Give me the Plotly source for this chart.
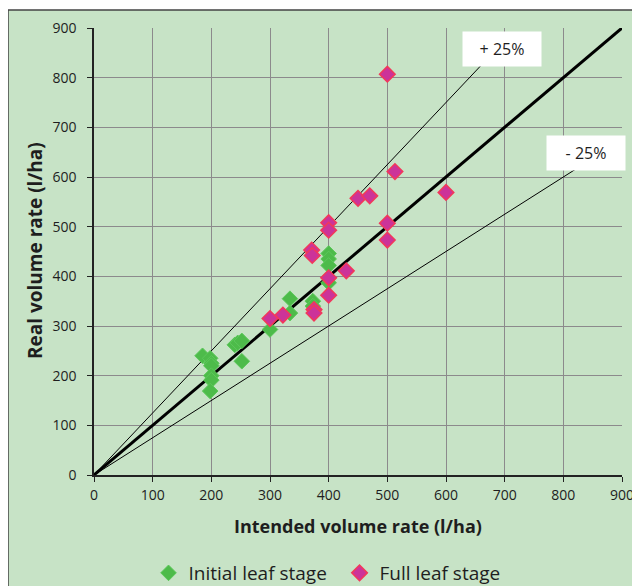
import plotly.graph_objects as go

# Data
initial_x = [185, 198, 200, 200, 200, 200, 198, 240, 245, 252, 252, 300, 334, 334, 373, 373, 400, 400, 400, 400, 400]
initial_y = [240, 235, 225, 220, 200, 191, 169, 262, 266, 270, 229, 293, 355, 326, 350, 340, 446, 435, 422, 397, 387]

full_x = [300, 322, 375, 375, 371, 372, 400, 400, 400, 400, 430, 450, 470, 500, 500, 500, 513, 600]
full_y = [315, 322, 333, 326, 453, 442, 508, 493, 397, 362, 411, 557, 562, 807, 507, 473, 611, 569]

line_1to1_x = [0, 900]
line_1to1_y = [0, 900]
line_plus_x = [0, 660]
line_plus_y = [0, 825]
line_minus_x = [0, 820]
line_minus_y = [0, 615]

ticks = [0, 100, 200, 300, 400, 500, 600, 700, 800, 900]

GREEN_BG = "#c7e3c6"
PINK_BG = "#efd5d7"
FONT = "Open Sans"
TXT = "#1e1e1e"

fig = go.Figure()

for xs, ys, w in [(line_plus_x, line_plus_y, 1), (line_minus_x, line_minus_y, 1), (line_1to1_x, line_1to1_y, 3)]:
    fig.add_trace(go.Scatter(x=xs, y=ys, mode="lines", line=dict(color="black", width=w),
                             showlegend=False, hoverinfo="skip"))

fig.add_trace(go.Scatter(x=initial_x, y=initial_y, mode="markers", name="Initial leaf stage",
                         marker=dict(symbol="diamond", size=12, color="#4dbb4a",
                                     line=dict(color="#5cc85a", width=1))))
fig.add_trace(go.Scatter(x=full_x, y=full_y, mode="markers", name="Full leaf stage",
                         marker=dict(symbol="diamond", size=12, color="#cc3399",
                                     line=dict(color="#f2385a", width=1.5))))

fig.add_annotation(x=695, y=858, text="+ 25%", showarrow=False, bgcolor="white",
                   font=dict(family=FONT, size=16, color=TXT), width=76, height=32)
fig.add_annotation(x=839, y=648, text="- 25%", showarrow=False, bgcolor="white",
                   font=dict(family=FONT, size=16, color=TXT), width=76, height=32)

# axis titles
fig.add_annotation(xref="paper", yref="paper", x=0.5, y=-0.114, xanchor="center", yanchor="middle",
                   text="<b>Intended volume rate (l/ha)</b>", showarrow=False,
                   font=dict(family=FONT, size=18, color=TXT))
fig.add_annotation(xref="paper", yref="paper", x=-0.112, y=0.503, xanchor="center", yanchor="middle",
                   text="<b>Real volume rate (l/ha)</b>", showarrow=False, textangle=-90,
                   font=dict(family=FONT, size=19, color=TXT))

# outer green frame
fig.add_shape(type="rect", xref="paper", yref="paper", layer="below",
              x0=(8 - 94) / 528, x1=(660 - 94) / 528,
              y0=(475 - 600) / 447, y1=(475 - 10) / 447,
              fillcolor=GREEN_BG, line=dict(color="#444", width=1.5))

axis_common = dict(range=[0, 900], tickvals=ticks, showgrid=True, gridcolor="#8c8a8c", gridwidth=1,
                   showline=True, linecolor="#222", linewidth=1.5, ticks="outside", ticklen=5,
                   tickcolor="#222", zeroline=False, tickfont=dict(family=FONT, size=14, color=TXT),
                   fixedrange=True, automargin=False)

fig.update_xaxes(**axis_common, ticklabelstandoff=1)
fig.update_yaxes(**axis_common, ticklabelstandoff=8)

# the page body adds an 8px offset; margins compensate for it
fig.update_layout(
    width=640, height=586,
    margin=dict(l=86, r=26, t=20, b=119),
    paper_bgcolor="white", plot_bgcolor=PINK_BG,
    showlegend=True,
    legend=dict(orientation="h", xref="paper", x=0.465, xanchor="center",
                yref="container", y=0.0358, yanchor="middle",
                font=dict(family=FONT, size=19, color=TXT), bgcolor="rgba(0,0,0,0)",
                itemwidth=30, entrywidth=146, entrywidthmode="pixels"),
    font=dict(family=FONT),
)

fig.write_html("out.html")
